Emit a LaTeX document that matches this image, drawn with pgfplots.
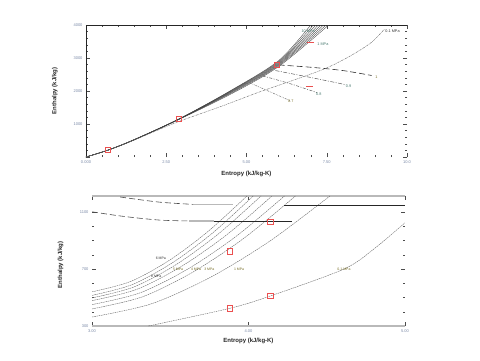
\documentclass[border=0pt]{standalone}
\usepackage{fontspec}
\setmainfont{Liberation Sans}
\usepackage{pgfplots}
\pgfplotsset{compat=1.18}
\definecolor{tickcol}{RGB}{120,135,165}
\definecolor{redm}{RGB}{235,80,80}
\definecolor{labc}{RGB}{70,120,110}
\definecolor{labo}{RGB}{120,110,40}
\pgfplotsset{
  common/.style={
    scale only axis, anchor=south west,
    axis line style={draw=none},
    tick align=inside, major tick length=4pt, minor tick length=2pt,
    tick style={black!70, line width=0.4pt},
    ticklabel style={font=\fontsize{4}{4}\selectfont, text=tickcol},
    /pgf/number format/assume math mode=true,
    xlabel={Entropy (kJ/kg-K)}, ylabel={Enthalpy (kJ/kg)},
    label style={font=\bfseries\fontsize{6}{7}\selectfont, text=black!85},
  },
  bund/.style={black!75, line width=0.35pt, smooth},
  iso/.style={black!60, line width=0.4pt, smooth, dash pattern=on 1.6pt off 0.7pt},
  redsq/.style={only marks, mark=square, draw=redm, mark options={draw=redm, fill=none, line width=0.6pt, solid}},
}
\begin{document}
\begin{tikzpicture}
\useasboundingbox (0,0) rectangle (480pt,360pt);
% ---------------- top chart ----------------
\begin{axis}[common, at={(86pt,203pt)}, width=321pt, height=132pt,
  xmin=0, xmax=10, ymin=0, ymax=4000,
  xtick={0,2.5,5,7.5,10}, xticklabels={0.000,2.50,5.00,7.50,10.0},
  ytick={0,1000,2000,3000,4000}, yticklabels={,1000,2000,3000,4000},
  minor x tick num=4, minor y tick num=4,
  xlabel style={at={(axis description cs:0.5,-0.125)}, anchor=center},
  ylabel style={at={(axis description cs:-0.097,0.5)}, anchor=center},
]
\draw[black!85, line width=0.5pt] (rel axis cs:0,0) -- (rel axis cs:0,1) -- (rel axis cs:1,1);
\addplot[bund] coordinates {(0,0)(0.7,215)(1.5,528)(2.9,1156)(4.5,2010)(6.0,2920)(7.0,4000)};
\addplot[bund] coordinates {(0,0)(0.7,215)(1.5,526)(2.9,1154)(4.5,2000)(6.0,2895)(7.08,4000)};
\addplot[bund] coordinates {(0,0)(0.7,214)(1.5,525)(2.9,1152)(4.5,1990)(6.0,2870)(7.16,4000)};
\addplot[bund] coordinates {(0,0)(0.7,214)(1.5,524)(2.9,1150)(4.5,1975)(6.0,2845)(7.24,4000)};
\addplot[bund] coordinates {(0,0)(0.7,213)(1.5,522)(2.9,1148)(4.5,1960)(6.0,2820)(7.32,4000)};
\addplot[bund] coordinates {(0,0)(0.7,213)(1.5,520)(2.9,1146)(4.5,1945)(6.0,2795)(7.40,4000)};
\addplot[bund] coordinates {(0,0)(0.7,212)(1.5,518)(2.9,1144)(4.5,1925)(6.0,2770)(7.48,4000)};
\addplot[bund] coordinates {(0,0)(0.7,212)(1.5,516)(2.9,1140)(4.5,1900)(6.0,2740)(7.56,4000)};
% 0.1 MPa
\addplot[black!55, line width=0.45pt, smooth, dash pattern=on 2pt off 0.8pt on 0.6pt off 0.8pt]
  coordinates {(0,0)(0.7,212)(1.5,515)(2.2,800)(2.93,1090)(4.2,1530)(5.4,1970)(6.5,2340)(7.5,2700)(8.3,3100)(8.9,3480)(9.3,3880)};
% dashed lines
\addplot[black!80, line width=0.6pt, smooth, dash pattern=on 6pt off 3pt]
  coordinates {(6.0,2790)(7.0,2720)(8.0,2620)(8.9,2470)};
\addplot[black!65, line width=0.5pt, smooth, dash pattern=on 4pt off 1.5pt on 1pt off 1.5pt]
  coordinates {(5.9,2620)(7.0,2410)(8.1,2190)};
\addplot[black!65, line width=0.5pt, smooth, dash pattern=on 3pt off 1.5pt on 1pt off 1.5pt]
  coordinates {(5.5,2460)(6.4,2210)(7.2,1950)};
\addplot[black!60, line width=0.45pt, smooth, dash pattern=on 2pt off 1pt on 0.7pt off 1pt on 0.7pt off 1pt]
  coordinates {(5.1,2250)(5.7,1990)(6.35,1710)};
% red marks
\addplot[redsq, mark size=2.6pt] coordinates {(0.69,210)(2.9,1150)(5.95,2790)};
\addplot[only marks, mark=-, mark size=3.5pt, draw=redm, mark options={draw=redm, line width=0.7pt, solid}]
  coordinates {(7.0,3480)(6.95,2150)};
\node[font=\fontsize{3.8}{4}\selectfont, text=labc] at (axis cs:6.92,3800) {10 MPa};
\node[font=\fontsize{3.8}{4}\selectfont, text=labc] at (axis cs:7.38,3420) {1 MPa};
\node[font=\fontsize{3.8}{4}\selectfont, text=black!80] at (axis cs:9.55,3820) {0.1 MPa};
\node[font=\fontsize{3.8}{4}\selectfont, text=labo] at (axis cs:9.05,2420) {1};
\node[font=\fontsize{3.8}{4}\selectfont, text=labc] at (axis cs:8.18,2150) {0.9};
\node[font=\fontsize{3.8}{4}\selectfont, text=labc] at (axis cs:7.25,1910) {0.8};
\node[font=\fontsize{3.8}{4}\selectfont, text=labo] at (axis cs:6.38,1700) {0.7};
\end{axis}
% ---------------- bottom chart ----------------
\begin{axis}[common, at={(92pt,34pt)}, width=313pt, height=130pt,
  xmin=3, xmax=5, ymin=300, ymax=1213,
  xtick={3,4,5}, xticklabels={3.00,4.00,5.00},
  ytick={300,700,1100}, yticklabels={300,700,1100},
  minor ytick={400,500,600,800,900,1000},
  xlabel style={at={(axis description cs:0.5,-0.115)}, anchor=center},
  ylabel style={at={(axis description cs:-0.10,0.47)}, anchor=center},
]
\draw[gray!55, line width=1.5pt] (rel axis cs:0,1) -- (rel axis cs:1,1);
\draw[gray!55, line width=1.5pt] (rel axis cs:0,0) -- (rel axis cs:1,0);
\addplot[iso] coordinates {(3,540)(3.2475,613)(3.495,762)(3.7425,965)(3.99,1213)};
\addplot[iso] coordinates {(3,515)(3.2575,591)(3.515,745)(3.7725,955)(4.03,1213)};
\addplot[iso] coordinates {(3,497)(3.27,575)(3.54,733)(3.81,949)(4.08,1213)};
\addplot[iso] coordinates {(3,478)(3.2875,558)(3.575,721)(3.8625,942)(4.15,1213)};
\addplot[iso] coordinates {(3,450)(3.3075,533)(3.615,702)(3.9225,931)(4.23,1213)};
\addplot[iso] coordinates {(3,420)(3.325,506)(3.65,682)(3.975,920)(4.30,1213)};
\addplot[iso] coordinates {(3,363)(3.38,456)(3.76,644)(4.14,899)(4.52,1213)};
\addplot[iso] coordinates {(3.36,300)(3.88,424)(4.14,511)(4.61,700)(4.8,840)(5.0,1025)};
% horizontal lines
\addplot[black!70, line width=0.6pt, smooth, dash pattern=on 6pt off 3pt]
  coordinates {(3.18,1206)(3.43,1170)(3.65,1154)};
\addplot[gray!55, line width=1.5pt] coordinates {(3.65,1154)(3.90,1154)};
\addplot[black!85, line width=0.6pt] coordinates {(4.23,1149)(5.0,1149)};
\addplot[black!70, line width=0.6pt, smooth, dash pattern=on 6pt off 3pt]
  coordinates {(3.0,1102)(3.2,1070)(3.43,1044)(3.62,1038)};
\addplot[gray!55, line width=1.5pt] coordinates {(3.62,1036)(3.78,1036)};
\addplot[black!85, line width=0.6pt] coordinates {(3.78,1032)(4.28,1032)};
% red marks
\addplot[redsq, mark size=2.8pt] coordinates {(3.88,826)(4.14,1032)};
\addplot[redsq, mark size=2.8pt] coordinates {(4.14,511)(3.88,424)};
\node[font=\fontsize{3.5}{4}\selectfont, text=black!80] at (axis cs:3.44,775) {6 MPa};
\node[font=\fontsize{3.5}{4}\selectfont, text=black!80] at (axis cs:3.41,650) {8 MPa};
\node[font=\fontsize{3.5}{4}\selectfont, text=labo] at (axis cs:3.55,700) {5 MPa};
\node[font=\fontsize{3.5}{4}\selectfont, text=labo] at (axis cs:3.665,700) {4 MPa};
\node[font=\fontsize{3.5}{4}\selectfont, text=labo] at (axis cs:3.75,700) {3 MPa};
\node[font=\fontsize{3.5}{4}\selectfont, text=labo] at (axis cs:3.94,700) {1 MPa};
\node[font=\fontsize{3.5}{4}\selectfont, text=labo] at (axis cs:4.61,700) {0.1 MPa};
\end{axis}
\end{tikzpicture}
\end{document}
